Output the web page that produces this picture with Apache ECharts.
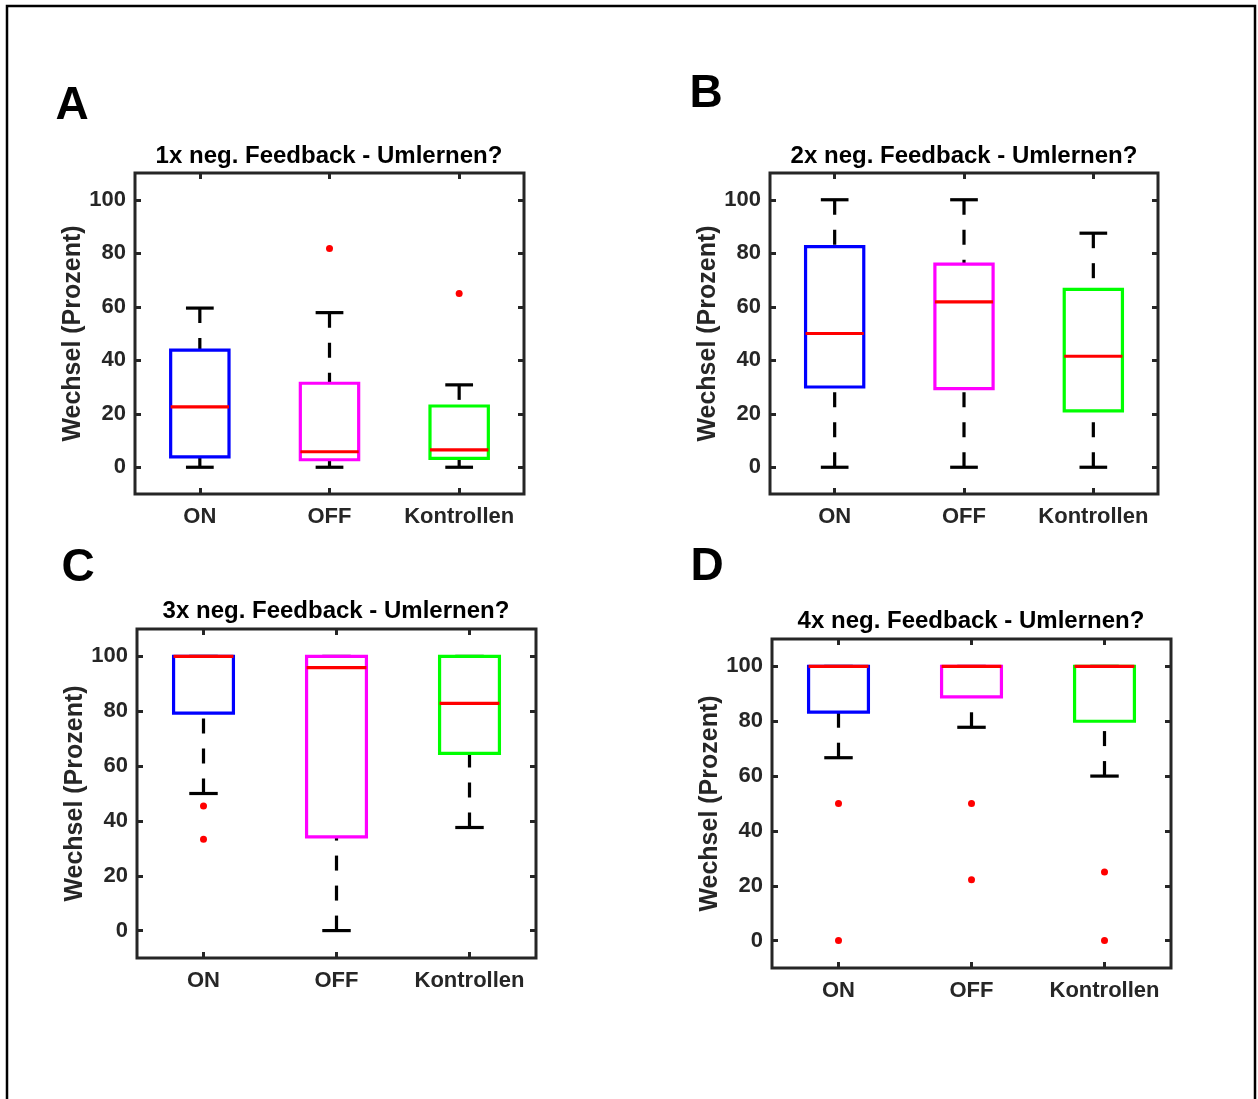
<!DOCTYPE html>
<html lang="de">
<head>
    <meta charset="UTF-8">
    <title>Umlernen nach negativem Feedback</title>
    <style>
        html, body { margin: 0; padding: 0; background: #fff; }
        #main { width: 1258px; height: 1099px; }
    </style>
</head>
<body>
    <div id="main"></div>
    <script src="https://cdn.jsdelivr.net/npm/echarts@6.0.0/dist/echarts.min.js"></script>
    <script>
        // Gruppen und Achsen
        var groups = ['ON', 'OFF', 'Kontrollen'];
        var yTicks = [0, 20, 40, 60, 80, 100];
        var panelLetters = ['A', 'B', 'C', 'D'];
        var panelTitles = [
            '1x neg. Feedback - Umlernen?',
            '2x neg. Feedback - Umlernen?',
            '3x neg. Feedback - Umlernen?',
            '4x neg. Feedback - Umlernen?'
        ];

        // je Gruppe: [unterer Whisker, Q1, Median, Q3, oberer Whisker]
        var stats1x = [[0, 3.9, 22.6, 43.8, 59.5], [0, 2.8, 5.8, 31.4, 57.8], [0, 3.3, 6.5, 22.9, 30.8]];
        var stats2x = [[0, 30, 50, 82.5, 100], [0, 29.4, 61.8, 75.9, 100], [0, 21.1, 41.5, 66.5, 87.5]];
        var stats3x = [[50, 79.3, 100, 100, 100], [0, 34.2, 95.9, 100, 100], [37.6, 64.6, 82.9, 100, 100]];
        var stats4x = [[66.7, 83.3, 100, 100, 100], [77.8, 88.9, 100, 100, 100], [60, 80, 100, 100, 100]];

        // Ausreisser je Gruppe
        var outliers1x = [[], [81.8], [65]];
        var outliers2x = [[], [], []];
        var outliers3x = [[45.4, 33.3], [], []];
        var outliers4x = [[50, 0], [50, 22.2], [25, 0]];

        var allStats = [stats1x, stats2x, stats3x, stats4x];
        var allOutliers = [outliers1x, outliers2x, outliers3x, outliers4x];

        var boxColors = ['#0000ff', '#ff00ff', '#00ff00'];
        var font = '"Liberation Sans", Arial, sans-serif';
        var axisColor = '#262626';

        // Lage der vier Plots
        var grids = [
            {left: 135, top: 173, width: 389, height: 321},
            {left: 770, top: 173, width: 388, height: 321},
            {left: 137, top: 629, width: 399, height: 329},
            {left: 772, top: 639, width: 399, height: 329}
        ];
        var titlePos = [[329, 156], [964, 156], [336, 611], [971, 621]];
        var letterPos = [[72, 106], [706, 94], [78, 568], [707, 567]];

        var myChart = echarts.init(document.getElementById('main'), null, {renderer: 'canvas'});

        function renderBox(params, api) {
            var i = api.value(0);
            var lo = api.value(1), q1 = api.value(2), med = api.value(3), q3 = api.value(4), hi = api.value(5);
            var band = api.size([1, 0])[0];
            var bw = band * 0.225, cw = band * 0.107;
            var x = api.coord([i, lo])[0];
            var yLo = api.coord([i, lo])[1];
            var yQ1 = api.coord([i, q1])[1];
            var yMed = api.coord([i, med])[1];
            var yQ3 = api.coord([i, q3])[1];
            var yHi = api.coord([i, hi])[1];
            var dash = {stroke: '#000', lineWidth: 3.2, lineDash: [15, 15], fill: null};
            var solid = {stroke: '#000', lineWidth: 3.2, fill: null};
            var children = [];
            if (hi > q3) children.push({type: 'line', shape: {x1: x, y1: yHi, x2: x, y2: yQ3}, style: dash});
            if (lo < q1) children.push({type: 'line', shape: {x1: x, y1: yLo, x2: x, y2: yQ1}, style: dash});
            children.push({type: 'line', shape: {x1: x - cw, y1: yHi, x2: x + cw, y2: yHi}, style: solid});
            children.push({type: 'line', shape: {x1: x - cw, y1: yLo, x2: x + cw, y2: yLo}, style: solid});
            children.push({
                type: 'rect',
                shape: {x: x - bw, y: yQ3, width: 2 * bw, height: yQ1 - yQ3},
                style: {stroke: boxColors[params.dataIndex], lineWidth: 3.2, fill: 'transparent'}
            });
            children.push({type: 'line', shape: {x1: x - bw, y1: yMed, x2: x + bw, y2: yMed},
                style: {stroke: '#ff0000', lineWidth: 3.2, fill: null}});
            return {type: 'group', children: children};
        }

        var option = {
            animation: false,
            backgroundColor: '#fff',
            grid: [], xAxis: [], yAxis: [], series: [],
            graphic: []
        };

        // Rahmen um die ganze Abbildung
        option.graphic.push({
            type: 'rect', silent: true,
            shape: {x: 7, y: 6, width: 1248, height: 1200},
            style: {stroke: '#000', lineWidth: 2.5, fill: 'transparent'}
        });

        for (var p = 0; p < 4; p++) {
            var g = grids[p];
            option.grid.push({
                left: g.left, top: g.top, width: g.width, height: g.height,
                show: true, borderColor: axisColor, borderWidth: 3, backgroundColor: '#fff'
            });
            // unten + oben
            option.xAxis.push({
                type: 'category', gridIndex: p, data: groups, position: 'bottom',
                axisLine: {show: false, onZero: false},
                axisTick: {show: true, inside: true, alignWithLabel: true, length: 6,
                    lineStyle: {color: axisColor, width: 3}},
                axisLabel: {color: axisColor, fontFamily: font, fontWeight: 'bold', fontSize: 22,
                    margin: 12, interval: 0},
                splitLine: {show: false}
            });
            option.xAxis.push({
                type: 'category', gridIndex: p, data: groups, position: 'top',
                axisLine: {show: false, onZero: false},
                axisTick: {show: true, inside: true, alignWithLabel: true, length: 6,
                    lineStyle: {color: axisColor, width: 3}},
                axisLabel: {show: false},
                splitLine: {show: false}
            });
            // links + rechts
            option.yAxis.push({
                type: 'value', gridIndex: p, min: -10, max: 110, position: 'left',
                name: 'Wechsel (Prozent)', nameLocation: 'middle', nameGap: 48,
                nameTextStyle: {color: axisColor, fontFamily: font, fontWeight: 'bold', fontSize: 25},
                axisLine: {show: false, onZero: false},
                axisTick: {show: true, inside: true, length: 6, customValues: yTicks,
                    lineStyle: {color: axisColor, width: 3}},
                axisLabel: {color: axisColor, fontFamily: font, fontWeight: 'bold', fontSize: 22,
                    margin: 9, customValues: yTicks},
                splitLine: {show: false}
            });
            option.yAxis.push({
                type: 'value', gridIndex: p, min: -10, max: 110, position: 'right',
                axisLine: {show: false, onZero: false},
                axisTick: {show: true, inside: true, length: 6, customValues: yTicks,
                    lineStyle: {color: axisColor, width: 3}},
                axisLabel: {show: false, customValues: yTicks},
                splitLine: {show: false}
            });

            option.series.push({
                type: 'custom', xAxisIndex: 2 * p, yAxisIndex: 2 * p,
                renderItem: renderBox,
                encode: {x: 0, y: [1, 2, 3, 4, 5]},
                data: allStats[p].map(function (s, i) { return [i].concat(s); }),
                z: 2
            });

            var pts = [];
            allOutliers[p].forEach(function (vals, i) {
                vals.forEach(function (v) { pts.push([i, v]); });
            });
            option.series.push({
                type: 'scatter', xAxisIndex: 2 * p, yAxisIndex: 2 * p,
                symbol: 'circle', symbolSize: 7,
                itemStyle: {color: '#ff0000', opacity: 1},
                data: pts, z: 3
            });

            option.graphic.push({
                type: 'text', x: titlePos[p][0], y: titlePos[p][1],
                style: {text: panelTitles[p], fill: '#000', textAlign: 'center', textVerticalAlign: 'middle',
                    font: 'bold 24px ' + font}
            });
            option.graphic.push({
                type: 'text', x: letterPos[p][0], y: letterPos[p][1],
                style: {text: panelLetters[p], fill: '#000', textAlign: 'center', textVerticalAlign: 'middle',
                    font: 'bold 46px ' + font}
            });
        }

        myChart.setOption(option);
    </script>
</body>
</html>
